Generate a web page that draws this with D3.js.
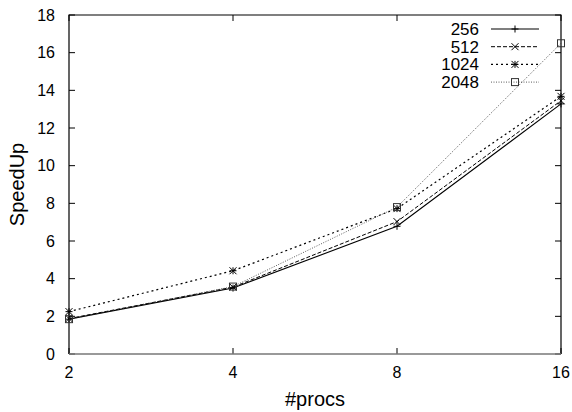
<!DOCTYPE html>
<html>
<head>
<meta charset="utf-8">
<script src="https://cdn.jsdelivr.net/npm/d3@7"></script>
<style>
  body { margin: 0; background: #fff; }
  svg { display: block; font-family: "Liberation Sans", Arial, sans-serif; }
</style>
</head>
<body>
<div id="chart"></div>
<script>
// Chart size and plot margins
const width = 572;
const height = 412;
const margin = {left: 69, right: 11, top: 15, bottom: 58};

// Data
const procs = [2, 4, 8, 16];
const yTicks = [0, 2, 4, 6, 8, 10, 12, 14, 16, 18];
const sizes = ["256", "512", "1024", "2048"];
const speed256 = [1.85, 3.5, 6.78, 13.28];
const speed512 = [1.88, 3.55, 7.03, 13.45];
const speed1024 = [2.25, 4.42, 7.72, 13.68];
const speed2048 = [1.85, 3.58, 7.8, 16.5];

const series = [
  {name: sizes[0], values: speed256, dash: null, color: "#000", width: 1.1, marker: "plus"},
  {name: sizes[1], values: speed512, dash: "4,2", color: "#000", width: 1, marker: "cross"},
  {name: sizes[2], values: speed1024, dash: "2,3", color: "#000", width: 1.2, marker: "star"},
  {name: sizes[3], values: speed2048, dash: "1,1.5", color: "#333", width: 0.8, marker: "box"}
];

const svg = d3.select("#chart")
  .append("svg")
  .attr("width", width)
  .attr("height", height);

// Scales: log base 2 on x
const x = d3.scaleLog().base(2)
  .domain([2, 16])
  .range([margin.left, width - margin.right]);

const y = d3.scaleLinear()
  .domain([0, 18])
  .range([height - margin.bottom, margin.top]);

const x0 = margin.left, x1 = width - margin.right;
const y0 = height - margin.bottom, y1 = margin.top;

// Ticks (inward, mirrored like gnuplot)
const tickLen = 6;
const ticks = svg.append("g").attr("stroke", "#000").attr("stroke-width", 1);
yTicks.forEach(v => {
  ticks.append("line").attr("x1", x0).attr("x2", x0 + tickLen).attr("y1", y(v)).attr("y2", y(v));
  ticks.append("line").attr("x1", x1).attr("x2", x1 - tickLen).attr("y1", y(v)).attr("y2", y(v));
});
procs.forEach(p => {
  ticks.append("line").attr("x1", x(p)).attr("x2", x(p)).attr("y1", y0).attr("y2", y0 - tickLen);
  ticks.append("line").attr("x1", x(p)).attr("x2", x(p)).attr("y1", y1).attr("y2", y1 + tickLen);
});

// Border
svg.append("path")
  .attr("d", `M${x0},${y0} L${x0},${y1} L${x1},${y1} L${x1},${y0}`)
  .attr("fill", "none").attr("stroke", "#000").attr("stroke-width", 1.2);
svg.append("line")
  .attr("x1", x0).attr("x2", x1).attr("y1", y0).attr("y2", y0)
  .attr("stroke", "#777").attr("stroke-width", 1.5);

// Tick labels
svg.append("g").selectAll("text")
  .data(yTicks)
  .enter().append("text")
  .attr("x", x0 - 14)
  .attr("y", d => y(d))
  .attr("dy", "0.35em")
  .attr("text-anchor", "end")
  .attr("font-size", 16)
  .text(d => d);

svg.append("g").selectAll("text")
  .data(procs)
  .enter().append("text")
  .attr("x", d => x(d))
  .attr("y", y0 + 24)
  .attr("text-anchor", "middle")
  .attr("font-size", 16)
  .text(d => d);

// Axis titles
svg.append("text")
  .attr("x", (x0 + x1) / 2)
  .attr("y", 406)
  .attr("text-anchor", "middle")
  .attr("font-size", 20)
  .text("#procs");

svg.append("text")
  .attr("transform", `translate(24,${(y0 + y1) / 2}) rotate(-90)`)
  .attr("text-anchor", "middle")
  .attr("font-size", 20)
  .text("SpeedUp");

// Marker drawing
function drawMarker(g, type, cx, cy, color) {
  const s = 3.5;
  const m = g.append("g").attr("stroke", color).attr("stroke-width", 1).attr("fill", "none");
  if (type === "plus" || type === "star") {
    m.append("path").attr("d", `M${cx - s},${cy} H${cx + s} M${cx},${cy - s} V${cy + s}`);
  }
  if (type === "cross" || type === "star") {
    m.append("path").attr("d", `M${cx - s},${cy - s} L${cx + s},${cy + s} M${cx - s},${cy + s} L${cx + s},${cy - s}`);
  }
  if (type === "box") {
    m.append("rect").attr("x", cx - s).attr("y", cy - s).attr("width", 2 * s).attr("height", 2 * s);
  }
}

// Lines and points
const line = d3.line()
  .x((d, i) => x(procs[i]))
  .y(d => y(d));

series.forEach(s => {
  svg.append("path")
    .datum(s.values)
    .attr("d", line)
    .attr("fill", "none")
    .attr("stroke", s.color)
    .attr("stroke-width", s.width)
    .attr("stroke-dasharray", s.dash);
  const g = svg.append("g");
  s.values.forEach((v, i) => drawMarker(g, s.marker, x(procs[i]), y(v), s.color));
});

// Legend
const legendY = 29, legendStep = 17.7;
series.forEach((s, i) => {
  const ly = legendY + i * legendStep;
  svg.append("text")
    .attr("x", 479)
    .attr("y", ly)
    .attr("dy", "0.35em")
    .attr("text-anchor", "end")
    .attr("font-size", 17)
    .text(s.name);
  svg.append("line")
    .attr("x1", 491).attr("x2", 539)
    .attr("y1", ly).attr("y2", ly)
    .attr("stroke", s.color)
    .attr("stroke-width", s.width)
    .attr("stroke-dasharray", s.dash);
  drawMarker(svg, s.marker, 515, ly, s.color);
});
</script>
</body>
</html>
